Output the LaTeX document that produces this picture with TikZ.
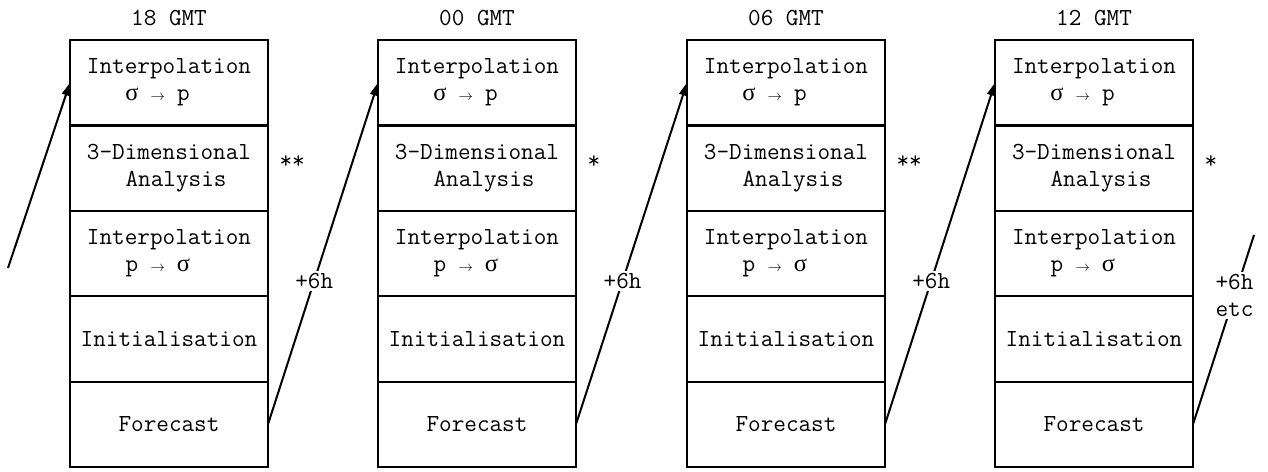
\documentclass[tikz,border=0pt]{standalone}
\usepackage{fontspec}
\newfontfamily\greekfont{Liberation Serif}
\usetikzlibrary{arrows.meta}
% one typewriter cell, so that every glyph takes the width of a mono character
\newcommand\cell[1]{\makebox[0.525em]{#1}}
\newcommand\sig{\cell{\greekfont σ}}
\newcommand\arr{\cell{\fontsize{14}{14}\selectfont$\rightarrow$}}
\newcommand\gap{\cell{}}
\begin{document}
\begin{tikzpicture}[x=1pt,y=-1pt,
  every node/.style={font=\ttfamily\fontsize{24.5}{27}\selectfont},
  stage/.style={draw, line width=2.2pt, minimum width=198pt, minimum height=85.4pt,
    inner sep=0pt, outer sep=0pt, align=left, anchor=north west},
  link/.style={line width=2pt},
  tip/.style={-{Triangle[length=13pt,width=8pt]}},
  cut/.style={fill=white, inner sep=2pt, align=center}
]
\useasboundingbox (0,0) rectangle (1268,471);

\foreach \c/\x/\t/\s in {1/70/18/**, 2/378/00/*, 3/687/06/**, 4/995/12/*} {
  \node (h\c) at (\x+99,18) {\t\ GMT};
  \node[stage] (c\c-1) at (\x,40)
    {Interpolation\\\gap\gap\gap\sig\gap\arr\gap\cell{p}};
  \node[stage] (c\c-2) at (\x,125.4)
    {3-Dimensional\\\gap\gap\gap Analysis};
  \node[stage] (c\c-3) at (\x,210.8)
    {Interpolation\\\gap\gap\gap\cell{p}\gap\arr\gap\sig};
  \node[stage] (c\c-4) at (\x,296.2) {Initialisation};
  \node[stage] (c\c-5) at (\x,381.6) {Forecast};
  \node[anchor=base west] (s\c) at (\x+206,168) {\s};
}

% incoming cycle
\coordinate (start) at (8,268);
\draw[link,tip] (start) -- (c1-1.west);

% six-hour steps from each forecast to the next interpolation
\draw[link,tip] (c1-5.east) -- node[cut,pos=0.42] {+6h} (c2-1.west);
\draw[link,tip] (c2-5.east) -- node[cut,pos=0.42] {+6h} (c3-1.west);
\draw[link,tip] (c3-5.east) -- node[cut,pos=0.42] {+6h} (c4-1.west);

% continuing cycle
\coordinate (next) at (1254,235);
\draw[link] (c4-5.east) -- node[cut,pos=0.68] {+6h\\etc} (next);
\end{tikzpicture}
\end{document}
